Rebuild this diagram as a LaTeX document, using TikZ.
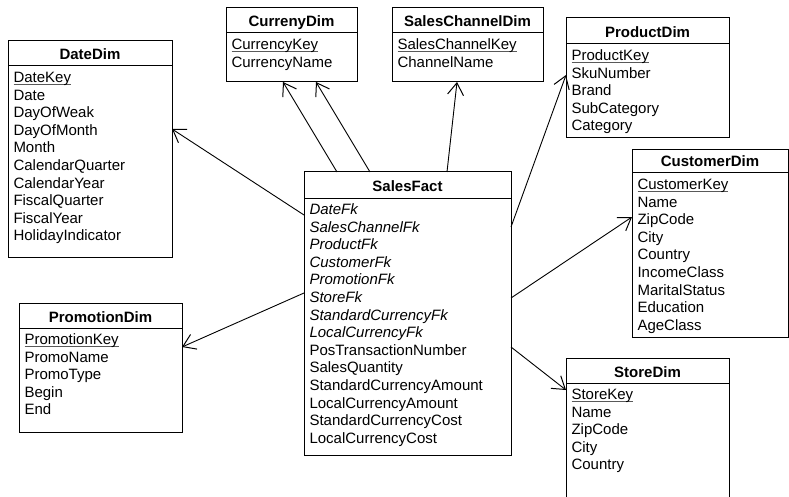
\documentclass[tikz,border=0pt]{standalone}
\usepackage{fontspec}
\setmainfont{Liberation Sans}
\usetikzlibrary{arrows.meta,calc}
\newcommand\ukey[1]{\setbox0\hbox{#1}\rlap{\color{black!65}\rule[-2pt]{\wd0}{0.9pt}}\box0}
\newcommand\erbox[8]{%
  \node[tbl, minimum width=#4pt, minimum height=#5pt] (#1) at (#2,#3) {};
  \draw ($(#1.north west)+(0,#6)$) -- ($(#1.north east)+(0,#6)$);
  \node[ttl] (#1-t) at ($(#1.north)+(0,#6-6)$) {\textbf{#7}};
  \foreach \rowtxt [count=\i from 0] in {#8} {
    \node[rowtxt] (#1-\i) at ($(#1.north west)+(5,#6+16.5+17.6*\i)$) {\rowtxt};
  }%
}
\begin{document}
\begin{tikzpicture}[x=1pt,y=-1pt,line width=1pt,
  every node/.style={font=\fontsize{15}{18}\selectfont},
  tbl/.style={draw=black, anchor=north west, inner sep=0pt, outer sep=0pt},
  ttl/.style={anchor=base, inner sep=0pt},
  rowtxt/.style={anchor=base west, inner sep=0pt},
  fk/.style={-{Straight Barb[length=12pt,width=16pt,line width=1pt]}, line width=0.9pt}]
\useasboundingbox (0,0) rectangle (789,497);
\clip (0,0) rectangle (789,497);
\fill[white] (0,0) rectangle (789,497);

\erbox{date}{8}{41}{164}{216}{25}{DateDim}{\ukey{DateKey},Date,DayOfWeak,DayOfMonth,Month,CalendarQuarter,CalendarYear,FiscalQuarter,FiscalYear,HolidayIndicator}
\erbox{curr}{226}{8}{131}{74}{25}{CurrenyDim}{\ukey{CurrencyKey},CurrencyName}
\erbox{chan}{392}{8}{151}{74}{25}{SalesChannelDim}{\ukey{SalesChannelKey},ChannelName}
\erbox{prod}{566}{18}{163}{120}{26}{ProductDim}{\ukey{ProductKey},SkuNumber,Brand,SubCategory,Category}
\erbox{cust}{632}{150}{156}{187}{23}{CustomerDim}{\ukey{CustomerKey},Name,ZipCode,City,Country,IncomeClass,MaritalStatus,Education,AgeClass}
\erbox{promo}{19}{303}{163}{129}{25}{PromotionDim}{\ukey{PromotionKey},PromoName,PromoType,Begin,End}
\erbox{sales}{304}{172}{207}{283}{26}{SalesFact}{\textit{DateFk},\textit{SalesChannelFk},\textit{ProductFk},\textit{CustomerFk},\textit{PromotionFk},\textit{StoreFk},\textit{StandardCurrencyFk},\textit{LocalCurrencyFk},PosTransactionNumber,SalesQuantity,StandardCurrencyAmount,LocalCurrencyAmount,StandardCurrencyCost,LocalCurrencyCost}
\erbox{store}{566}{358}{163}{150}{25}{StoreDim}{\ukey{StoreKey},Name,ZipCode,City,Country}

\draw[fk] ($(sales.north west)+(0,43)$) -- ($(date.north east)+(0,88)$);
\draw[fk] ($(sales.north west)+(33,0)$) -- ($(curr.south west)+(57,0)$);
\draw[fk] ($(sales.north west)+(66,0)$) -- ($(curr.south west)+(90,0)$);
\draw[fk] ($(sales.north west)+(143,0)$) -- ($(chan.south west)+(65,0)$);
\draw[fk] ($(sales.north east)+(0,55)$) -- ($(prod.north west)+(0,57)$);
\draw[fk] ($(sales.north east)+(0,126)$) -- ($(cust.north west)+(0,67)$);
\draw[fk] ($(sales.north west)+(0,121)$) -- ($(promo.north east)+(0,44)$);
\draw[fk] ($(sales.north east)+(0,175)$) -- ($(store.north west)+(0,32)$);
\end{tikzpicture}
\end{document}
